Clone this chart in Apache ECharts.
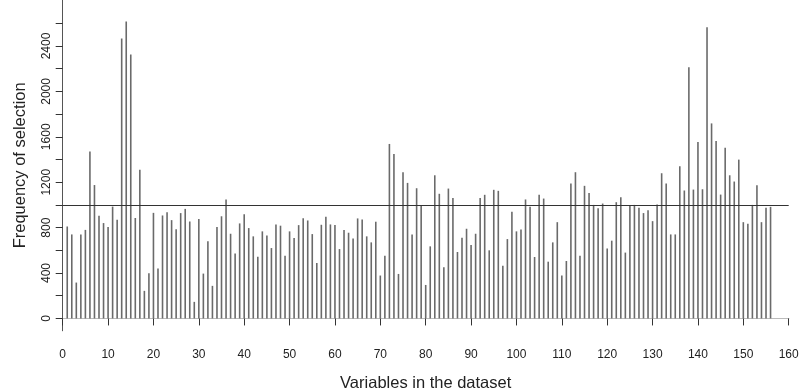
<!DOCTYPE html>
<html>
<head>
<meta charset="utf-8">
<title>Frequency of selection</title>
<script src="https://cdn.jsdelivr.net/npm/echarts@6/dist/echarts.min.js"></script>
<style>
  html, body { margin: 0; padding: 0; background: #fff; }
  #chart { width: 800px; height: 392px; }
</style>
</head>
<body>
<div id="chart"></div>
<script>
// selection counts for variables 1..156
var freq = [
  810, 740, 316, 740, 780, 1470, 1175, 905, 840, 805,
  985, 870, 2465, 2615, 2325, 885, 1310, 243, 398, 930,
  440, 907, 935, 866, 785, 928, 965, 854, 146, 875,
  395, 681, 287, 805, 900, 1048, 746, 573, 837, 918,
  796, 723, 544, 767, 731, 620, 828, 817, 553, 767,
  708, 822, 883, 863, 743, 488, 825, 896, 828, 822,
  611, 778, 755, 705, 881, 872, 723, 670, 852, 378,
  553, 1537, 1449, 392, 1288, 1194, 740, 1147, 1000, 295,
  635, 1261, 1098, 450, 1144, 1062, 585, 711, 790, 646,
  746, 1062, 1089, 600, 1133, 1124, 465, 699, 940, 767,
  784, 1048, 983, 541, 1089, 1056, 500, 670, 848, 378,
  506, 1188, 1288, 553, 1168, 1106, 1000, 971, 1012, 615,
  685, 1024, 1068, 580, 1000, 1000, 975, 928, 954, 857,
  1003, 1279, 1188, 740, 740, 1340, 1127, 2213, 1135, 1554,
  1138, 2564, 1718, 1563, 1091, 1504, 1261, 1206, 1399, 848,
  835, 1000, 1173, 848, 975, 983
];
var threshold = 1000;
var yTicks = [0, 200, 400, 600, 800, 1000, 1200, 1400, 1600, 1800, 2000, 2200, 2400, 2600];
var yLabels = [0, 400, 800, 1200, 1600, 2000, 2400];

var points = [];
for (var k = 0; k < freq.length; k++) {
  points.push([k + 1, freq[k]]);
}

var txt = '#222';
var font = '"Liberation Sans", Arial, Helvetica, sans-serif';

var myChart = echarts.init(document.getElementById('chart'));
myChart.setOption({
  animation: false,
  backgroundColor: '#fff',
  grid: { left: 62.7, right: 11.3, top: 0, bottom: 61.3, containLabel: false, outerBoundsMode: 'none' },
  xAxis: [{
    type: 'value',
    min: 0,
    max: 160,
    interval: 10,
    name: 'Variables in the dataset',
    nameLocation: 'middle',
    nameGap: 44,
    nameTextStyle: { fontSize: 16.5, color: txt, fontFamily: font },
    axisLine: { lineStyle: { color: '#333', width: 1 } },
    axisTick: { length: 7, lineStyle: { color: '#333' } },
    axisLabel: { fontSize: 12, color: txt, margin: 18, fontFamily: font },
    splitLine: { show: false }
  }, {
    // top edge of the box
    type: 'value',
    position: 'top',
    min: 0,
    max: 160,
    axisLine: { lineStyle: { color: '#bbb', width: 1 } },
    axisTick: { show: false },
    axisLabel: { show: false },
    splitLine: { show: false }
  }],
  yAxis: [{
    type: 'value',
    min: -108,
    max: 2805,
    name: 'Frequency of selection',
    nameLocation: 'middle',
    nameGap: 34,
    nameTextStyle: { fontSize: 16.5, color: txt, fontFamily: font },
    axisLine: { show: true, lineStyle: { color: '#333', width: 1 } },
    axisTick: { show: true, length: 7, customValues: yTicks, lineStyle: { color: '#333' } },
    axisLabel: {
      rotate: 90, fontSize: 12, color: txt, margin: 10, fontFamily: font,
      customValues: yLabels,
      formatter: function (v) { return String(v); }
    },
    splitLine: { show: false }
  }, {
    // right edge of the box
    type: 'value',
    position: 'right',
    min: -108,
    max: 2805,
    axisLine: { show: true, lineStyle: { color: '#555', width: 1 } },
    axisTick: { show: false },
    axisLabel: { show: false },
    splitLine: { show: false }
  }],
  series: [{
    type: 'bar',
    data: points,
    barWidth: 1.6,
    itemStyle: { color: '#6a6a6a' },
    silent: true,
    markLine: {
      silent: true,
      symbol: 'none',
      label: { show: false },
      lineStyle: { color: '#333', width: 1.2, type: 'solid' },
      data: [{ yAxis: threshold }]
    }
  }]
});
</script>
</body>
</html>
